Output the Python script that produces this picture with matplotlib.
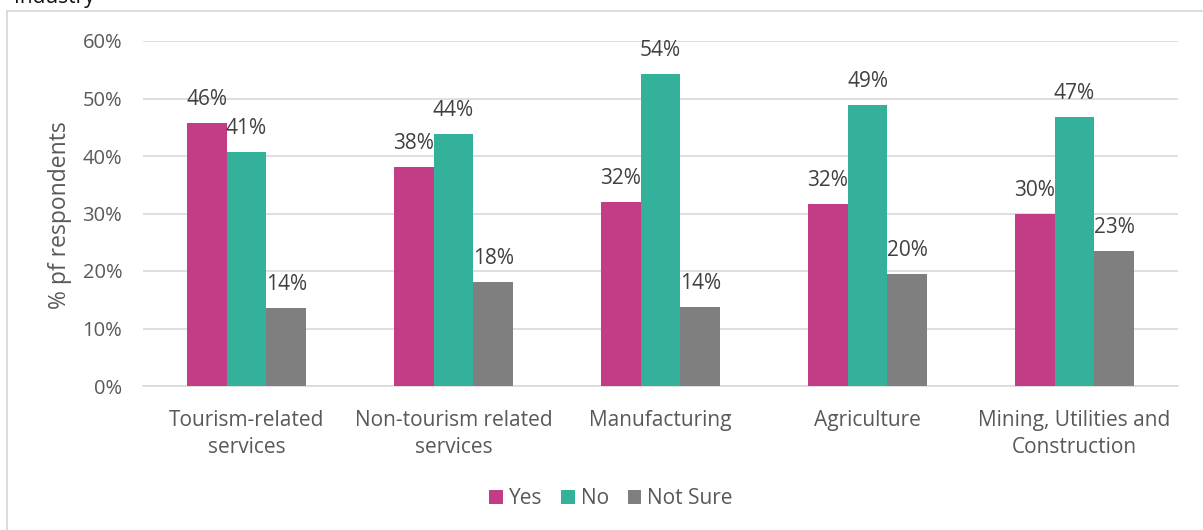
import matplotlib
matplotlib.use("Agg")
import matplotlib.pyplot as plt
import numpy as np
from matplotlib.patches import Rectangle

plt.rcParams['font.family'] = ['Open Sans', 'DejaVu Sans']

categories = ["Tourism-related\nservices", "Non-tourism related\nservices",
              "Manufacturing", "Agriculture", "Mining, Utilities and\nConstruction"]
series_names = ["Yes", "No", "Not Sure"]
yes_vals = [45.8, 38.1, 32.0, 31.7, 29.9]
no_vals = [40.7, 43.8, 54.2, 48.8, 46.7]
not_sure_vals = [13.6, 18.1, 13.8, 19.5, 23.4]
colors = ["#C23D86", "#33B19A", "#7F7F7F"]
y_ticks = [0, 10, 20, 30, 40, 50, 60]

text_col = "#595959"
grid_col = "#D9D9D9"
fs = 15

fig = plt.figure(figsize=(12.03, 5.30), dpi=100)

# outer chart frame (runs past the right and bottom edges)
fig.patches.append(Rectangle((7 / 1203, -0.1), 1.2, 1 - 11 / 530 + 0.1,
                             transform=fig.transFigure, fill=False,
                             edgecolor=grid_col, linewidth=1.3))
# tail of the heading above the chart
fig.text(95 / 1203, 1 - 3 / 530, "Industry", ha='right', va='baseline',
         fontsize=15, color='#111111')

ax = fig.add_axes([143 / 1203, 1 - 386 / 530, (1178 - 143) / 1203, (386 - 41) / 530])

x = np.arange(len(categories))
w = 0.193
all_series = [yes_vals, no_vals, not_sure_vals]
for i, (vals, name, c) in enumerate(zip(all_series, series_names, colors)):
    pos = x + (i - 1) * w
    ax.bar(pos, vals, width=w, color=c, label=name, zorder=3)
    for xp, v in zip(pos, vals):
        ax.annotate(f"{v:.0f}%", (xp, v), xytext=(0, 13), textcoords='offset points',
                    ha='center', va='baseline', fontsize=fs, color='#404040', zorder=4)

ax.set_xlim(-0.5, len(categories) - 0.5)
ax.set_ylim(0, 60)
ax.set_yticks(y_ticks)
ax.set_yticklabels([f"{t}%" for t in y_ticks])
ax.set_xticks(x)
ax.set_xticklabels(categories, linespacing=1.38)
ax.tick_params(axis='both', length=0, labelsize=fs, labelcolor=text_col)
ax.tick_params(axis='y', labelsize=14.5, pad=15)
ax.tick_params(axis='x', pad=17)
ax.grid(axis='y', color=grid_col, linewidth=1.2, zorder=0)
ax.set_axisbelow(True)
for s in ['top', 'right', 'left']:
    ax.spines[s].set_visible(False)
ax.spines['bottom'].set_color(grid_col)
ax.spines['bottom'].set_linewidth(1.2)

fig.text(60 / 1203, 1 - 215 / 530, "% pf respondents", rotation=90, ha='center', va='center',
         fontsize=16.5, color=text_col)

leg = fig.legend(loc='center', bbox_to_anchor=(611 / 1203, 1 - 499 / 530), ncol=3, frameon=False,
                 fontsize=fs, handlelength=0.65, handleheight=0.65, handletextpad=0.3,
                 columnspacing=0.9)
for t in leg.get_texts():
    t.set_color(text_col)

fig.savefig("out.png", dpi=100)
